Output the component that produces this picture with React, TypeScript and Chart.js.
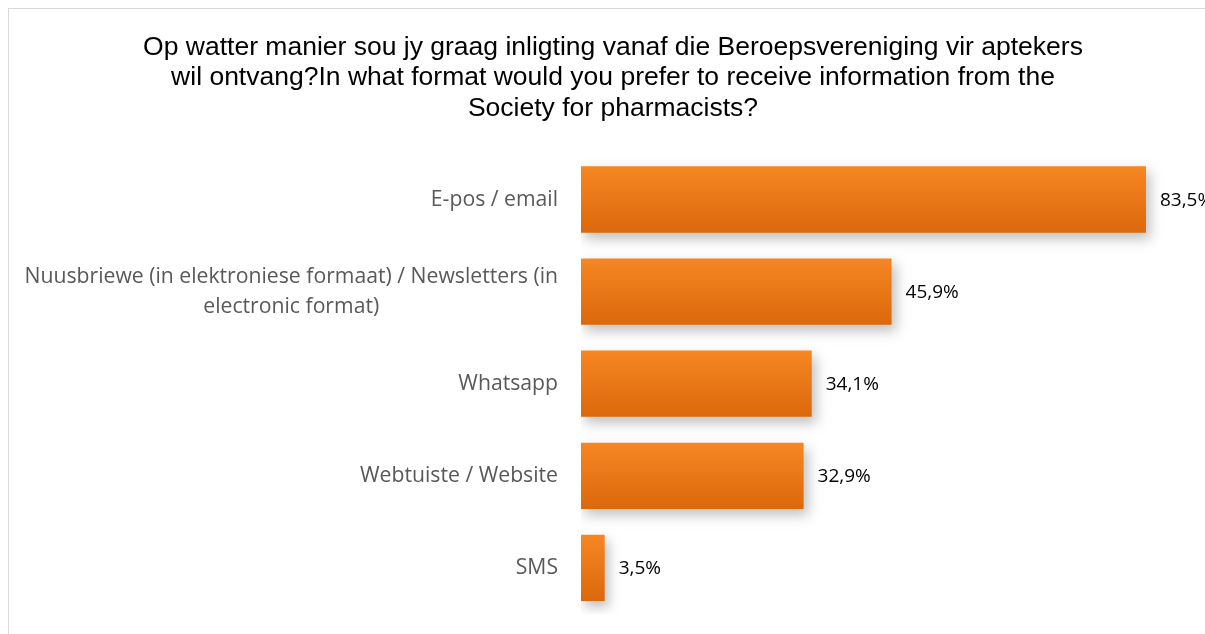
import React, { useEffect, useRef } from "react";
import { Chart, registerables } from "chart.js";

Chart.register(...registerables);

const titleLines = [
  "Op watter manier sou jy graag inligting vanaf die Beroepsvereniging vir aptekers",
  "wil ontvang?In what format would you prefer to receive information from the",
  "Society for pharmacists?",
];
const categories: string[][] = [
  ["E-pos / email"],
  ["Nuusbriewe (in elektroniese formaat) / Newsletters (in", "electronic format)"],
  ["Whatsapp"],
  ["Webtuiste / Website"],
  ["SMS"],
];
const values = [83.5, 45.9, 34.1, 32.9, 3.5];
const valueLabels = ["83,5%", "45,9%", "34,1%", "32,9%", "3,5%"];

const LABEL_FONT = "21.2px 'Open Sans'";
const VALUE_FONT = "19px 'Open Sans'";
const BAR_PCT = 0.72;

const shadowPlugin = {
  id: "barShadow",
  beforeDatasetsDraw(chart: any) {
    const ctx = chart.ctx;
    ctx.save();
    ctx.shadowColor = "rgba(0,0,0,0.25)";
    ctx.shadowBlur = 12;
    ctx.shadowOffsetX = 4;
    ctx.shadowOffsetY = 6;
  },
  afterDatasetsDraw(chart: any) {
    chart.ctx.restore();
  },
};

const labelsPlugin = {
  id: "customLabels",
  afterDraw(chart: any) {
    const ctx = chart.ctx;
    const y = chart.scales.y;
    const meta = chart.getDatasetMeta(0);
    ctx.save();
    ctx.font = LABEL_FONT;
    ctx.textBaseline = "middle";
    const lineH = 30;
    categories.forEach((lines, i) => {
      const cy = y.getPixelForValue(i);
      const right = chart.chartArea.left - 23;
      const w = Math.max(...lines.map((l) => ctx.measureText(l).width));
      const cx = right - w / 2;
      ctx.fillStyle = "#595959";
      ctx.textAlign = "center";
      lines.forEach((l, k) => {
        ctx.fillText(l, cx, cy + (k - (lines.length - 1) / 2) * lineH);
      });
    });
    ctx.font = VALUE_FONT;
    ctx.fillStyle = "#000000";
    ctx.textAlign = "left";
    meta.data.forEach((bar: any, i: number) => {
      ctx.fillText(valueLabels[i], bar.x + 14, bar.y + 1);
    });
    ctx.restore();
  },
};

export default function App() {
  const ref = useRef<HTMLCanvasElement>(null);
  useEffect(() => {
    if (!ref.current) return;
    const chart = new Chart(ref.current, {
      type: "bar",
      data: {
        labels: categories.map((c) => c.join(" ")),
        datasets: [
          {
            data: values,
            backgroundColor: (c: any) => {
              const ch = c.chart;
              const ys = ch.scales && ch.scales.y;
              if (!ys || !ch.chartArea) return "#E8761A";
              const cy = ys.getPixelForValue(c.dataIndex);
              const half = (ys.height / categories.length) * BAR_PCT / 2;
              const g = ch.ctx.createLinearGradient(0, cy - half, 0, cy + half);
              g.addColorStop(0, "#F68723");
              g.addColorStop(1, "#DB680B");
              return g;
            },
            borderWidth: 0,
            barPercentage: BAR_PCT,
            categoryPercentage: 1,
          },
        ],
      },
      options: {
        indexAxis: "y",
        animation: false,
        responsive: false,
        layout: { padding: { left: 0, right: 0, top: 0, bottom: 20 } },
        plugins: {
          legend: { display: false },
          tooltip: { enabled: false },
          title: {
            display: true,
            text: titleLines,
            color: "#000000",
            font: { family: "'Liberation Sans', Arial, sans-serif", size: 26.5, weight: "normal", lineHeight: 1.15 },
            padding: { top: 23, bottom: 30 },
          },
        },
        scales: {
          x: {
            display: false,
            min: 0,
            max: 94,
          },
          y: {
            grid: { display: false },
            border: { display: false },
            ticks: { display: false },
            afterFit: (s: any) => {
              s.width = 572;
            },
          },
        },
      },
      plugins: [shadowPlugin, labelsPlugin],
    });
    return () => chart.destroy();
  }, []);
  return (
    <div
      style={{
        position: "fixed",
        left: 8,
        top: 8,
        width: 1197,
        height: 626,
        overflow: "hidden",
        borderTop: "1px solid #d9d9d9",
        borderLeft: "1px solid #d9d9d9",
        boxSizing: "border-box",
        background: "#ffffff",
      }}
    >
      <canvas ref={ref} width={1208} height={625} style={{ display: "block" }} />
    </div>
  );
}
